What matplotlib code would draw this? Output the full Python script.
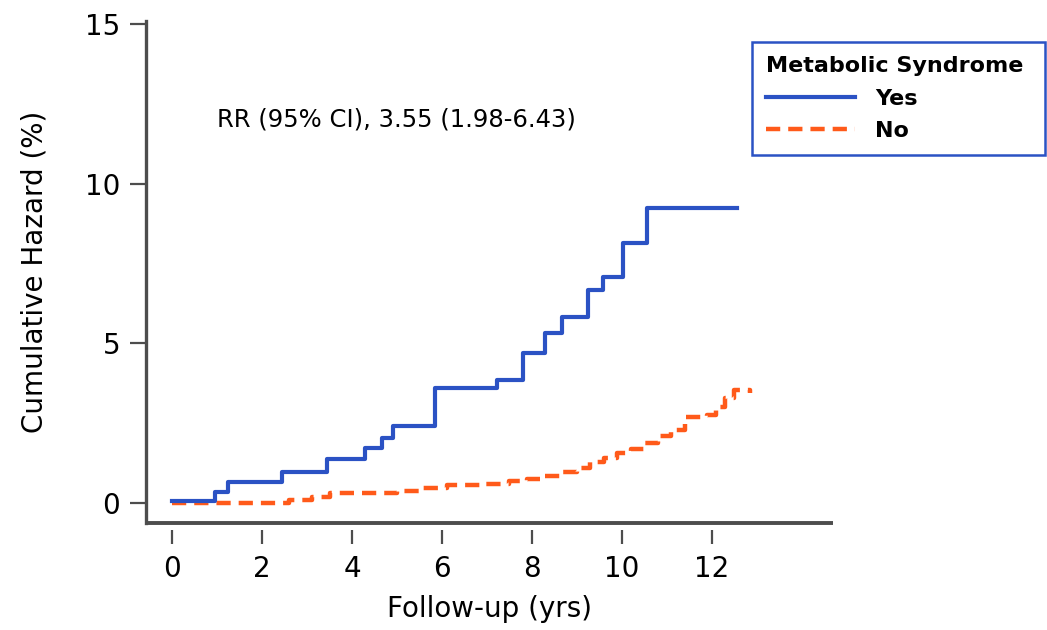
import matplotlib
matplotlib.use("Agg")
import matplotlib.pyplot as plt

# Cumulative hazard (%) by follow-up time (yrs)
yes_time = [0.0, 0.96, 1.24, 2.44, 3.44, 4.29, 4.66, 4.91, 5.84, 7.22, 7.80,
            8.29, 8.66, 9.24, 9.58, 10.02, 10.55, 12.55]
yes_hazard = [0.05, 0.35, 0.66, 0.97, 1.38, 1.72, 2.04, 2.41, 3.60, 3.85, 4.70,
              5.32, 5.83, 6.67, 7.08, 8.15, 9.24, 9.24]

no_time = [0.0, 2.6, 3.1, 3.5, 5.0, 5.5, 6.1, 6.9, 7.5, 7.9, 8.3, 8.7, 9.0,
           9.3, 9.6, 9.9, 10.2, 10.5, 10.8, 11.1, 11.4, 11.9, 12.1, 12.3,
           12.5, 12.85]
no_hazard = [0.0, 0.08, 0.2, 0.32, 0.38, 0.47, 0.55, 0.6, 0.68, 0.75, 0.85,
             0.97, 1.1, 1.28, 1.42, 1.55, 1.68, 1.88, 2.1, 2.3, 2.7, 2.76,
             3.0, 3.3, 3.55, 3.45]

group_labels = ["Yes", "No"]
legend_title = "Metabolic Syndrome"
rr_text = "RR (95% CI), 3.55 (1.98-6.43)"

x_ticks = [0, 2, 4, 6, 8, 10, 12]
y_ticks = [0, 5, 10, 15]

# COLORS -----------
blue = "#2b52c4"
orange = "#ff5a1a"
axis_grey = "#4d4d4d"
# ------------------

plt.rcParams["font.family"] = ["DejaVu Sans"]

fig = plt.figure(figsize=(10.47, 6.30), dpi=100)
ax = fig.add_axes([0.1394, 0.1698, 0.6562, 0.7969])

ax.step(yes_time, yes_hazard, where="post", color=blue, lw=3.0,
        label=group_labels[0], zorder=3)
ax.step(no_time, no_hazard, where="post", color=orange, lw=3.2,
        linestyle=(0, (3.2, 1.8)), label=group_labels[1], zorder=2)

ax.set_xlim(-0.58, 14.69)
ax.set_ylim(-0.63, 15.1)
ax.set_xticks(x_ticks)
ax.set_yticks(y_ticks)

for side in ["top", "right"]:
    ax.spines[side].set_visible(False)
ax.spines["left"].set_color(axis_grey)
ax.spines["left"].set_linewidth(2.4)

# x ticks hang a little below the axis line
ax.spines["bottom"].set_position(("outward", 5))
ax.spines["bottom"].set_visible(False)
ax.plot([0, 1], [0, 0], transform=ax.transAxes, color=axis_grey, lw=2.8,
        clip_on=False, solid_capstyle="butt", zorder=4)

ax.tick_params(axis="y", length=11.5, width=1.6, color=axis_grey, pad=7,
               labelsize=20)
ax.tick_params(axis="x", length=10, width=1.6, color=axis_grey, pad=8,
               labelsize=20)

ax.set_xlabel("Follow-up (yrs)", fontsize=20, labelpad=9)
ax.set_ylabel("Cumulative Hazard (%)", fontsize=20, labelpad=26)

ax.text(1.0, 12.0, rr_text, fontsize=17.5, va="center", ha="left")

leg = fig.legend(loc="upper left",
                 bbox_to_anchor=(752 / 1047, 1 - 151 / 630, 293 / 1047, 109 / 630),
                 mode="expand", borderaxespad=0, title=legend_title,
                 prop={"size": 16, "weight": "bold"},
                 title_fontproperties={"size": 16, "weight": "bold"},
                 handlelength=4.0, handletextpad=0.9, labelspacing=0.55,
                 borderpad=0.65, fancybox=False, framealpha=1)
leg._legend_box.align = "left"
leg.get_frame().set_edgecolor(blue)
leg.get_frame().set_linewidth(1.8)

fig.savefig("out.png", dpi=100)
